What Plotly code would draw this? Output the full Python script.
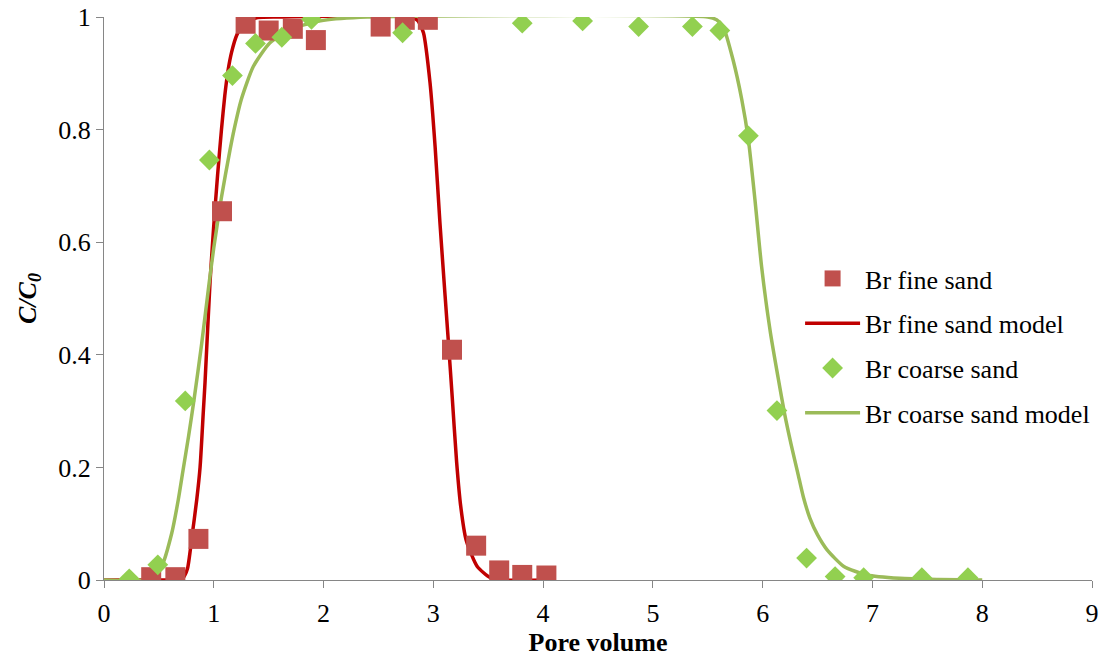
import plotly.graph_objects as go

# Measured breakthrough data (pore volume vs relative concentration)
fine_pv = [0.43, 0.65, 0.86, 1.075, 1.29, 1.50, 1.72, 1.93, 2.52, 2.74, 2.95, 3.17, 3.39, 3.60, 3.81, 4.03]
fine_c = [0.005, 0.005, 0.073, 0.655, 0.988, 0.976, 0.979, 0.959, 0.983, 0.995, 0.995, 0.409, 0.061, 0.017, 0.009, 0.008]

coarse_pv = [0.23, 0.49, 0.74, 0.96, 1.17, 1.38, 1.62, 1.89, 2.72, 3.81, 4.36, 4.87, 5.36, 5.61,
             5.87, 6.13, 6.40, 6.66, 6.92, 7.45, 7.87]
coarse_c = [0.002, 0.027, 0.318, 0.746, 0.896, 0.953, 0.964, 0.996, 0.972, 0.989, 0.993, 0.983, 0.983, 0.976,
            0.789, 0.301, 0.039, 0.006, 0.004, 0.004, 0.004]

# Fitted model curves
fine_model_pv = [0.0, 0.60, 0.68, 0.72, 0.76, 0.80, 0.845, 0.875, 0.905, 0.92, 0.966, 1.0, 1.035, 1.07,
                 1.10, 1.13, 1.163, 1.21, 1.28, 1.40, 1.60, 2.80, 2.86, 2.91, 2.97, 3.016, 3.06, 3.107,
                 3.14, 3.172, 3.212, 3.25, 3.30, 3.40, 3.52, 3.65, 4.05]
fine_model_c = [0.0, 0.0, 0.001, 0.004, 0.02, 0.075, 0.143, 0.2, 0.30, 0.35, 0.53, 0.63, 0.72, 0.80,
                0.86, 0.905, 0.938, 0.968, 0.99, 0.999, 1.0, 1.0, 0.993, 0.972, 0.883, 0.77, 0.635, 0.505,
                0.415, 0.325, 0.21, 0.13, 0.07, 0.024, 0.004, 0.0, 0.0]

coarse_model_pv = [0.0, 0.38, 0.45, 0.525, 0.617, 0.677, 0.72, 0.77, 0.82, 0.89, 0.958, 1.0, 1.07, 1.148,
                   1.185, 1.25, 1.36, 1.51, 1.725, 2.0, 2.4, 5.50, 5.58, 5.64, 5.73, 5.81, 5.87, 5.93, 5.99,
                   6.07, 6.14, 6.20, 6.26, 6.32, 6.37, 6.43, 6.50, 6.585, 6.74, 6.95, 7.25, 7.60, 8.0]
coarse_model_c = [0.0, 0.0, 0.006, 0.024, 0.083, 0.143, 0.195, 0.255, 0.32, 0.42, 0.528, 0.59, 0.68, 0.764,
                  0.8, 0.853, 0.912, 0.954, 0.98, 0.994, 1.0, 1.0, 0.995, 0.983, 0.924, 0.853, 0.782, 0.675,
                  0.557, 0.44, 0.36, 0.295, 0.24, 0.19, 0.148, 0.11, 0.08, 0.054, 0.024, 0.009, 0.003, 0.001, 0.0]

FONT = "Liberation Serif, Times New Roman, serif"
AXIS_GREY = "#868686"

fig = go.Figure()

fig.add_trace(go.Scatter(
    x=fine_model_pv, y=fine_model_c, mode="lines", name="Br fine sand model",
    line=dict(color="#C00000", width=3.5, shape="spline", smoothing=0.6),
    legendrank=2, legendgroup="b",
))
fig.add_trace(go.Scatter(
    x=coarse_model_pv, y=coarse_model_c, mode="lines", name="Br coarse sand model",
    line=dict(color="#9BBB59", width=3.5, shape="spline", smoothing=0.6),
    legendrank=4, legendgroup="d",
))
fig.add_trace(go.Scatter(
    x=fine_pv, y=fine_c, mode="markers", name="Br fine sand",
    marker=dict(symbol="square", size=20, color="#C0504D", line=dict(width=0)),
    legendrank=1, legendgroup="a",
))
fig.add_trace(go.Scatter(
    x=coarse_pv, y=coarse_c, mode="markers", name="Br coarse sand",
    marker=dict(symbol="diamond", size=16, color="#92D050", line=dict(width=0)),
    legendrank=3, legendgroup="c",
))

axis_common = dict(
    showline=True, linecolor=AXIS_GREY, linewidth=1.3,
    ticks="outside", ticklen=7, tickcolor=AXIS_GREY, tickwidth=1.3,
    showgrid=False, zeroline=False, automargin=False,
    tickfont=dict(family=FONT, size=26, color="black"),
)

fig.update_layout(
    width=1112, height=668,
    margin=dict(l=104, r=20, t=17, b=88, autoexpand=False),
    paper_bgcolor="white", plot_bgcolor="white",
    font=dict(family=FONT, size=26, color="black"),
    xaxis=dict(range=[0, 9], dtick=1, tick0=0, ticklabelstandoff=3,
               title=dict(text="<b>Pore volume</b>", font=dict(family=FONT, size=26), standoff=5),
               **axis_common),
    yaxis=dict(range=[0, 1], dtick=0.2, tick0=0,
               title=dict(text="<b><i>C/C<sub>0</sub></i></b>", font=dict(family=FONT, size=26), standoff=14),
               **axis_common),
    legend=dict(
        xref="container", yref="container",
        x=0.7195, y=0.482, xanchor="left", yanchor="middle",
        font=dict(family=FONT, size=26), bgcolor="rgba(0,0,0,0)",
        traceorder="grouped", tracegroupgap=8, itemwidth=55,
    ),
    showlegend=True,
)

fig.write_html("out.html")
